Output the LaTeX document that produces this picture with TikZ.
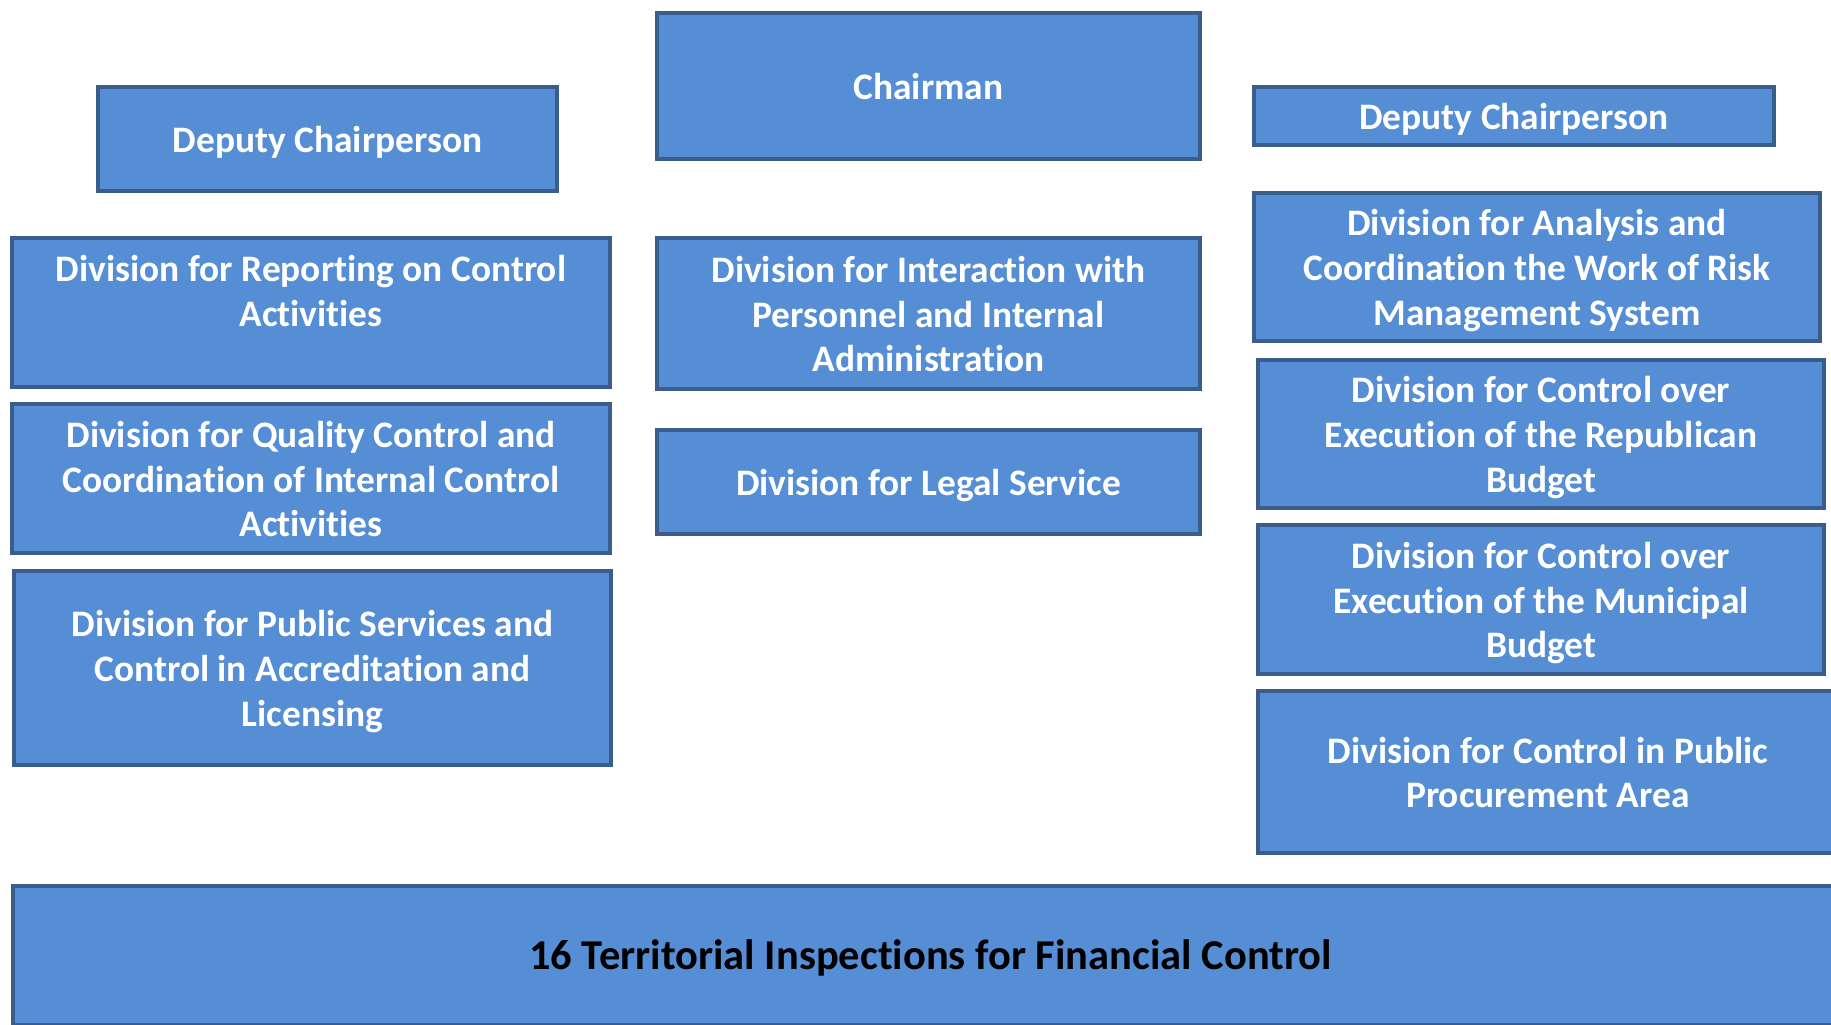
\documentclass[tikz,border=0pt]{standalone}
\usepackage{fontspec}
\setmainfont{Carlito}[Ligatures={NoCommon}]
\usetikzlibrary{positioning}

\definecolor{boxfill}{HTML}{558ED5}
\definecolor{boxline}{HTML}{3A5D8B}
\newcommand{\firstrow}{\rule{0pt}{37pt}}
\tikzset{
    unit/.style={fill=boxfill, draw=boxline, line width=4pt, align=center,
        text=white, font=\fontsize{37.4}{44.6}\selectfont\bfseries, inner sep=0pt,
        execute at begin node=\firstrow,
        execute at end node=\rule[-10pt]{0pt}{0pt}},
}

\begin{document}
\begin{tikzpicture}[x=1pt, y=-1pt]
        \useasboundingbox (0,0) rectangle (1831,1025);
        \clip (0,0) rectangle (1831,1025);
        \node (chair) at (928.5,86) [unit, minimum width=543, minimum height=146.5] {Chairman};
        \node (depL) at (327.5,139) [unit, minimum width=459, minimum height=104] {Deputy Chairperson};
        \node (depR) at (1514,116) [unit, minimum width=520, minimum height=58] {Deputy Chairperson};
        % left column
        \node (report) at (311,312.5) [unit, minimum width=597.5, minimum height=149] {\firstrow Division for Reporting on Control\\Activities\\\mbox{}};
        \node (quality) at (311,478.5) [unit, minimum width=597.5, minimum height=149] {\firstrow Division for Quality Control and\\Coordination of Internal Control\\Activities};
        \node (public) at (312.5,668) [unit, minimum width=597, minimum height=194] {\firstrow Division for Public Services and\\Control in Accreditation and\\Licensing};
        % middle column
        \node (interact) at (928.5,313.5) [unit, minimum width=543, minimum height=151] {\firstrow Division for Interaction with\\Personnel and Internal\\Administration};
        \node (legal) at (928.5,482) [unit, minimum width=543, minimum height=104] {Division for Legal Service};
        % right column
        \node (analysis) at (1537,267) [unit, minimum width=566, minimum height=148] {\firstrow Division for Analysis and\\Coordination the Work of Risk\\Management System};
        \node (republic) at (1541,434) [unit, minimum width=566, minimum height=148] {\firstrow Division for Control over\\Execution of the Republican\\Budget};
        \node (municip) at (1541,599.5) [unit, minimum width=566, minimum height=149] {\firstrow Division for Control over\\Execution of the Municipal\\Budget};
        \node (procure) at (1548,772) [unit, minimum width=580, minimum height=162] {\firstrow Division for Control in Public\\Procurement Area};
        \node (territ) at (930.5,955.5) [unit, text=black, font=\fontsize{42.5}{51}\selectfont\bfseries, minimum width=1836, minimum height=139] {16 Territorial Inspections for Financial Control};
    \end{tikzpicture}
\end{document}
